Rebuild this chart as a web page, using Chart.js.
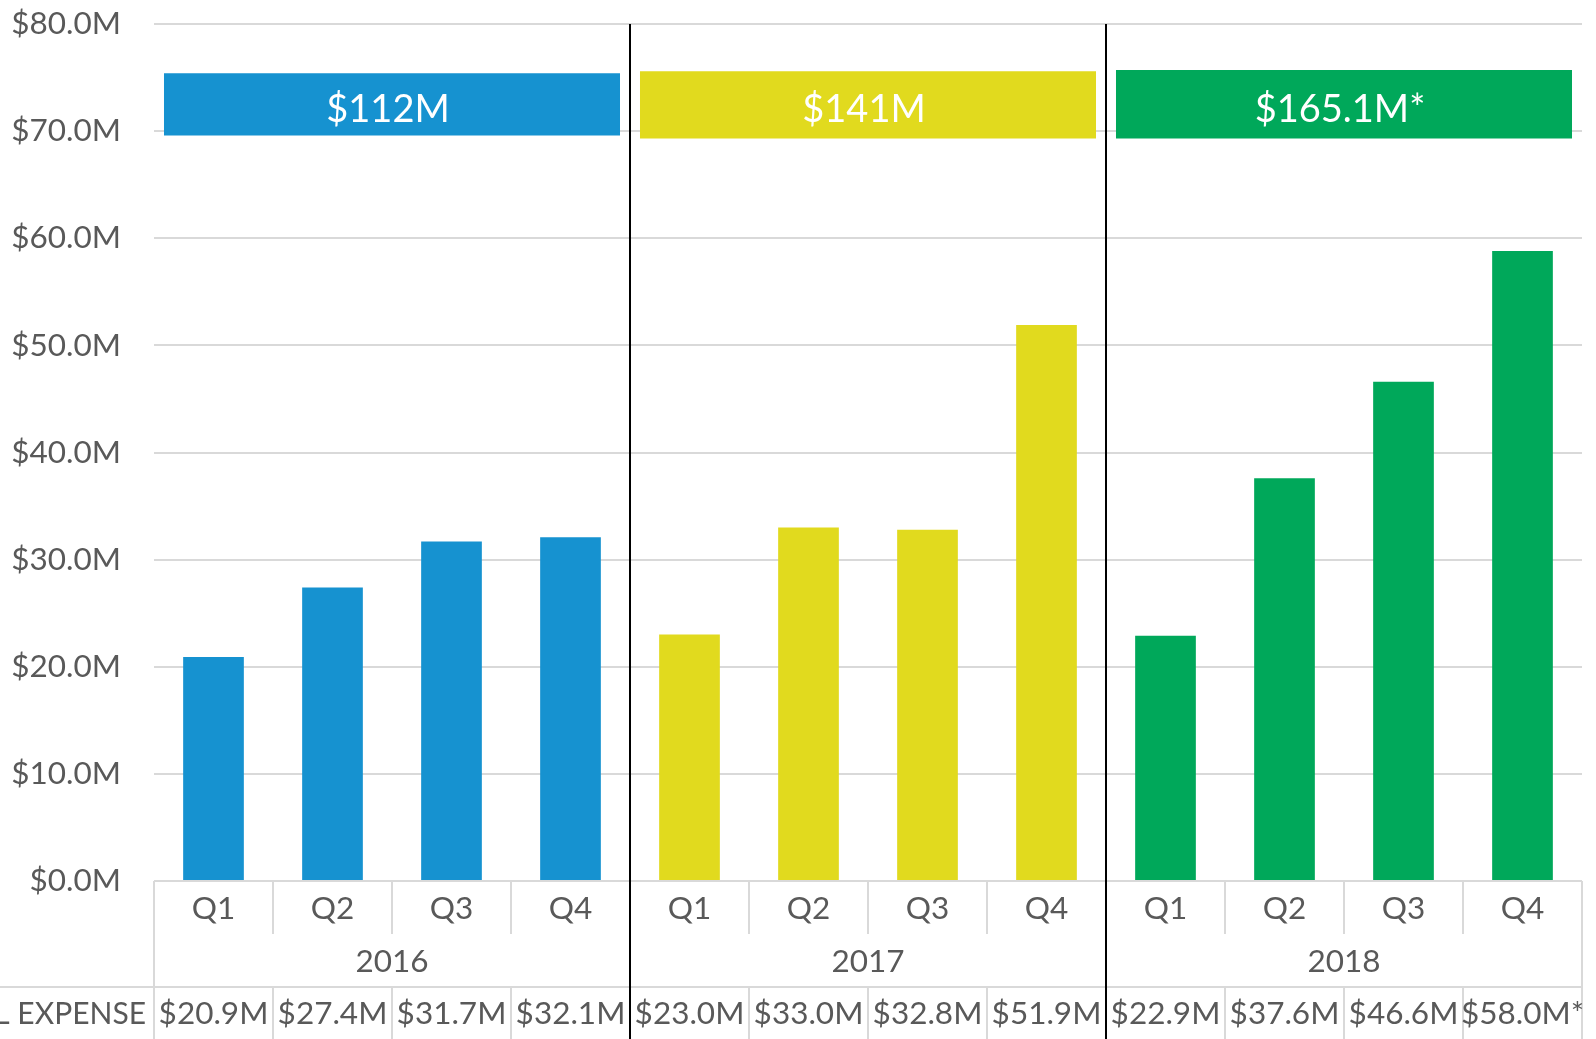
<!DOCTYPE html>
<html>
<head>
<meta charset="utf-8">
<script src="https://cdn.jsdelivr.net/npm/chart.js@4"></script>
<style>
  html, body { margin: 0; padding: 0; background: #fff; }
  #wrap { width: 1596px; height: 1039px; }
</style>
</head>
<body>
<div id="wrap"><canvas id="expenseChart" width="1596" height="1039"></canvas></div>
<script>
const quarters = ['Q1', 'Q2', 'Q3', 'Q4', 'Q1', 'Q2', 'Q3', 'Q4', 'Q1', 'Q2', 'Q3', 'Q4'];
const years = ['2016', '2017', '2018'];
const expense = [20.9, 27.4, 31.7, 32.1, 23.0, 33.0, 32.8, 51.9, 22.9, 37.6, 46.6, 58.8];
const expenseLabels = ['$20.9M', '$27.4M', '$31.7M', '$32.1M', '$23.0M', '$33.0M',
                       '$32.8M', '$51.9M', '$22.9M', '$37.6M', '$46.6M', '$58.0M*'];
const yearTotals = ['$112M', '$141M', '$165.1M*'];
const totalBand = [[69.6, 75.4], [69.3, 75.6], [69.3, 75.7]];
const rowName = 'TOTAL EXPENSE';

const yearColors = ['#1692D0', '#E1DA1E', '#00A85A'];
const textGray = '#595959';
const lineGray = '#D9D9D9';
const FONT = 'Lato, "Open Sans", sans-serif';

// each quarter bar gets the colour of its year
const barColors = expense.map((v, i) => yearColors[Math.floor(i / 4)]);

const bannerText = {
  id: 'bannerText',
  afterDatasetsDraw(chart) {
    const ctx = chart.ctx;
    const meta = chart.getDatasetMeta(1);
    ctx.save();
    ctx.font = '38px ' + FONT;
    ctx.fillStyle = '#fff';
    ctx.textAlign = 'center';
    ctx.textBaseline = 'middle';
    meta.data.forEach((el, i) => {
      ctx.fillText(yearTotals[i], el.x - 4, (el.y + el.base) / 2 + 5);
    });
    ctx.restore();
  }
};

const expenseTable = {
  id: 'expenseTable',
  afterDraw(chart) {
    const {ctx, chartArea, scales: {x}} = chart;
    const half = (x.getPixelForValue(1) - x.getPixelForValue(0)) / 2;
    const left = x.left, right = x.right;
    const base = chartArea.bottom;
    const rowQ = base + 53, rowY = rowQ + 53, bottom = chart.height;

    function line(x1, y1, x2, y2) {
      ctx.beginPath();
      ctx.moveTo(x1, y1);
      ctx.lineTo(x2, y2);
      ctx.stroke();
    }

    ctx.save();
    ctx.strokeStyle = lineGray;
    ctx.lineWidth = 2;
    line(left, base, right, base);
    line(0, rowY, right, rowY);
    line(left, base, left, bottom);
    line(right, base, right, bottom);
    for (let i = 1; i < quarters.length; i++) {
      const bx = x.getPixelForValue(i) - half;
      line(bx, base, bx, rowQ);
      line(bx, rowY, bx, bottom);
    }

    ctx.fillStyle = textGray;
    ctx.font = '31.5px ' + FONT;
    ctx.textAlign = 'center';
    ctx.textBaseline = 'middle';
    quarters.forEach((q, i) => {
      const cx = x.getPixelForValue(i);
      ctx.fillText(q, cx, (base + rowQ) / 2 + 1);
      ctx.fillText(expenseLabels[i], cx, (rowY + bottom) / 2 + 1);
    });
    years.forEach((yr, i) => {
      const cx = (x.getPixelForValue(i * 4) + x.getPixelForValue(i * 4 + 3)) / 2;
      ctx.fillText(yr, cx, (rowQ + rowY) / 2 + 1);
    });
    ctx.font = '30px ' + FONT;
    ctx.textAlign = 'right';
    ctx.fillText(rowName, left - 8, (rowY + bottom) / 2 + 1);

    // black separators between years
    ctx.strokeStyle = '#000';
    ctx.lineWidth = 2;
    for (let i = 1; i < years.length; i++) {
      const bx = x.getPixelForValue(i * 4) - half;
      line(bx, chartArea.top, bx, bottom);
    }
    ctx.restore();
  }
};

new Chart(document.getElementById('expenseChart'), {
  type: 'bar',
  data: {
    labels: quarters,
    datasets: [{
      label: 'Expense',
      data: expense,
      backgroundColor: barColors,
      xAxisID: 'x',
      grouped: false,
      barPercentage: 0.51,
      categoryPercentage: 1
    }, {
      label: 'Year total',
      data: totalBand,
      backgroundColor: yearColors,
      xAxisID: 'x2',
      grouped: false,
      barPercentage: 0.958,
      categoryPercentage: 1
    }]
  },
  plugins: [bannerText, expenseTable],
  options: {
    responsive: false,
    animation: false,
    devicePixelRatio: 1,
    layout: { padding: { left: 0, right: 14, top: 24, bottom: 158 } },
    plugins: {
      legend: { display: false },
      tooltip: { enabled: false }
    },
    scales: {
      x: { display: false, offset: true },
      x2: { type: 'category', labels: years, display: false, offset: true },
      y: {
        min: 0,
        max: 80,
        afterFit(scale) {
          scale.width = 154;
          scale.paddingTop = 0;
          scale.paddingBottom = 0;
        },
        border: { display: false },
        grid: { color: lineGray, lineWidth: 2, drawTicks: false },
        ticks: {
          stepSize: 10,
          padding: 33,
          color: textGray,
          font: { family: FONT, size: 31.5 },
          callback: v => '$' + v.toFixed(1) + 'M'
        }
      }
    }
  }
});
</script>
</body>
</html>
